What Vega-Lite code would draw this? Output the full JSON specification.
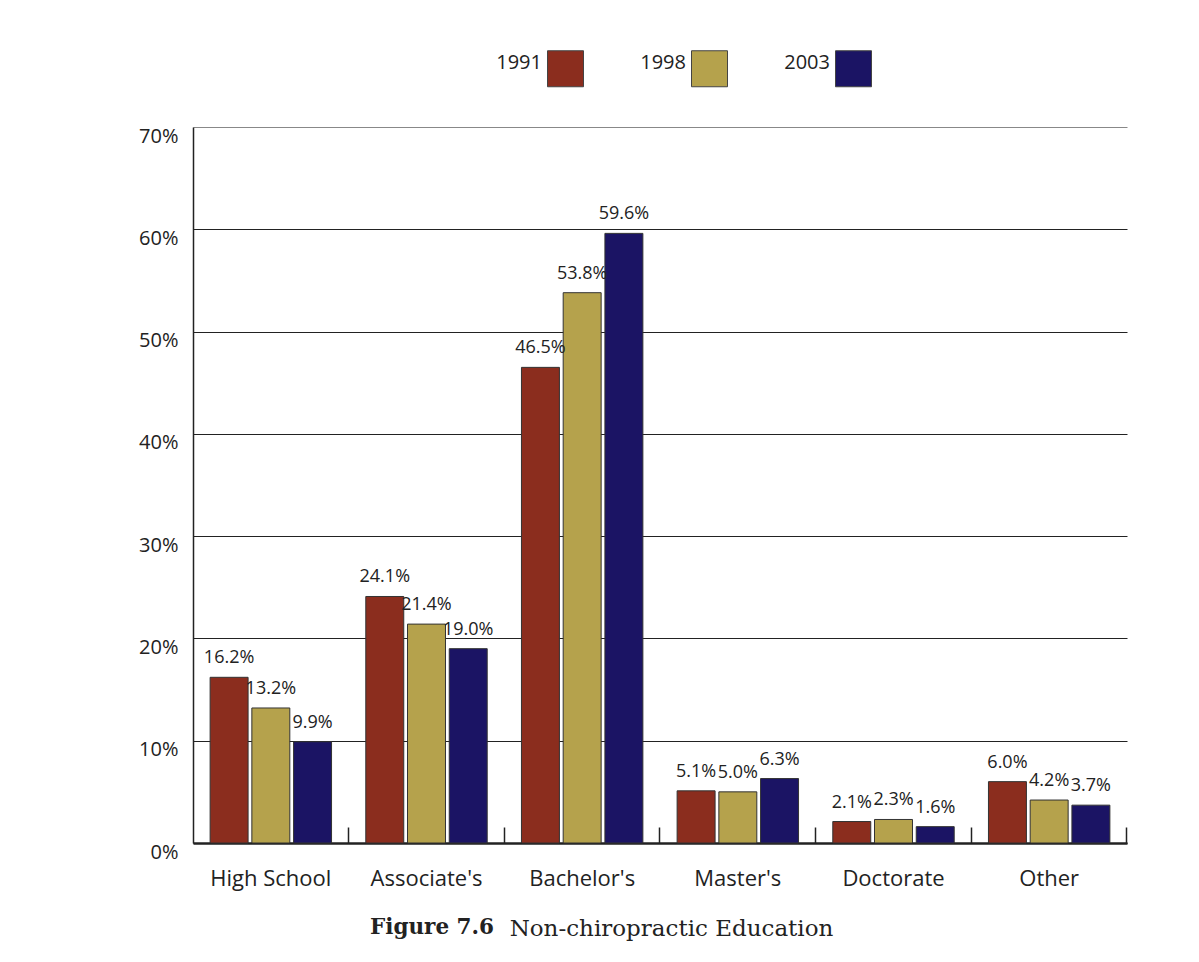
{
  "$schema": "https://vega.github.io/schema/vega-lite/v6.json",
  "autosize": {"type": "none"},
  "width": 934,
  "height": 716,
  "padding": {"left": 193, "top": 127, "right": 72, "bottom": 119},
  "background": "white",
  "config": {"view": {"stroke": null}, "font": "Open Sans"},
  "title": {
    "text": "Figure 7.6",
    "orient": "bottom",
    "anchor": "middle",
    "frame": "group",
    "dx": -228,
    "dy": -6,
    "font": "DejaVu Serif",
    "fontSize": 21.5,
    "fontWeight": "bold",
    "color": "#222",
    "offset": 0,
    "baseline": "alphabetic"
  },
  "data": {
    "values": [
      {"category": "High School", "year": "1991", "value": 0.162},
      {"category": "High School", "year": "1998", "value": 0.132},
      {"category": "High School", "year": "2003", "value": 0.099},
      {"category": "Associate's", "year": "1991", "value": 0.241},
      {"category": "Associate's", "year": "1998", "value": 0.214},
      {"category": "Associate's", "year": "2003", "value": 0.190},
      {"category": "Bachelor's", "year": "1991", "value": 0.465},
      {"category": "Bachelor's", "year": "1998", "value": 0.538},
      {"category": "Bachelor's", "year": "2003", "value": 0.596},
      {"category": "Master's", "year": "1991", "value": 0.051},
      {"category": "Master's", "year": "1998", "value": 0.050},
      {"category": "Master's", "year": "2003", "value": 0.063},
      {"category": "Doctorate", "year": "1991", "value": 0.021},
      {"category": "Doctorate", "year": "1998", "value": 0.023},
      {"category": "Doctorate", "year": "2003", "value": 0.016},
      {"category": "Other", "year": "1991", "value": 0.060},
      {"category": "Other", "year": "1998", "value": 0.042},
      {"category": "Other", "year": "2003", "value": 0.037}
    ]
  },
  "encoding": {
    "xOffset": {
      "field": "year",
      "type": "nominal",
      "scale": {"paddingInner": 0.09}
    },
    "y": {
      "field": "value",
      "type": "quantitative",
      "scale": {"domain": [0, 0.7], "nice": false},
      "axis": {
        "title": null,
        "format": ".0%",
        "values": [0, 0.1, 0.2, 0.3, 0.4, 0.5, 0.6, 0.7],
        "grid": true,
        "gridColor": {"condition": {"test": "datum.value >= 0.69", "value": "#888"}, "value": "#222"},
        "gridWidth": 1,
        "ticks": false,
        "domain": true,
        "domainColor": "#222",
        "domainWidth": 1.5,
        "labelFontSize": 20,
        "labelColor": "#222",
        "labelPadding": 15,
        "labelBaseline": "middle",
        "labelOffset": 9
      }
    }
  },
  "resolve": {"scale": {"x": "independent"}, "axis": {"x": "independent"}},
  "layer": [
    {
      "mark": {"type": "bar", "stroke": "#333", "strokeWidth": 1},
      "encoding": {
        "x": {
          "field": "category",
          "type": "nominal",
          "sort": ["High School", "Associate's", "Bachelor's", "Master's", "Doctorate", "Other"],
          "scale": {"paddingInner": 0.22, "paddingOuter": 0.11},
          "axis": {
            "orient": "bottom",
            "title": "Non-chiropractic Education",
            "titleFont": "DejaVu Serif",
            "titleFontSize": 23,
            "titleFontWeight": "normal",
            "titleColor": "#222",
            "titleX": 478,
            "titleY": 92,
            "titleAlign": "center",
            "titleBaseline": "alphabetic",
            "labelFontSize": 22,
            "labelColor": "#222",
            "labelAngle": 0,
            "labelPadding": 25,
            "labelBaseline": "top",
            "ticks": false,
            "domainColor": "#222",
            "domainWidth": 2.5,
            "grid": false
          }
        },
        "color": {
          "field": "year",
          "type": "nominal",
          "scale": {"domain": ["1991", "1998", "2003"], "range": ["#8B2D1E", "#B5A24C", "#1B1464"]},
          "legend": {
            "orient": "none",
            "legendX": 354,
            "legendY": -77,
            "direction": "horizontal",
            "title": null,
            "symbolType": "square",
            "symbolSize": 1296,
            "symbolStrokeColor": "#444",
            "symbolStrokeWidth": 1,
            "symbolOpacity": 1,
            "labelFontSize": 20,
            "labelColor": "#222",
            "labelAlign": "right",
            "labelBaseline": "alphabetic",
            "labelOffset": -42,
            "columnPadding": 54
          }
        }
      }
    },
    {
      "mark": {"type": "text", "dy": -19, "baseline": "middle", "fontSize": 18, "color": "#222"},
      "encoding": {
        "x": {
          "field": "category",
          "type": "nominal",
          "sort": ["High School", "Associate's", "Bachelor's", "Master's", "Doctorate", "Other"],
          "scale": {"paddingInner": 0.22, "paddingOuter": 0.11},
          "axis": {
            "orient": "bottom",
            "offset": -16,
            "title": null,
            "labels": false,
            "domain": false,
            "grid": false,
            "ticks": true,
            "tickSize": 16,
            "tickColor": "#222",
            "tickWidth": 1.5,
            "bandPosition": 1.141
          }
        },
        "text": {"field": "value", "type": "quantitative", "format": ".1%"}
      }
    }
  ]
}
